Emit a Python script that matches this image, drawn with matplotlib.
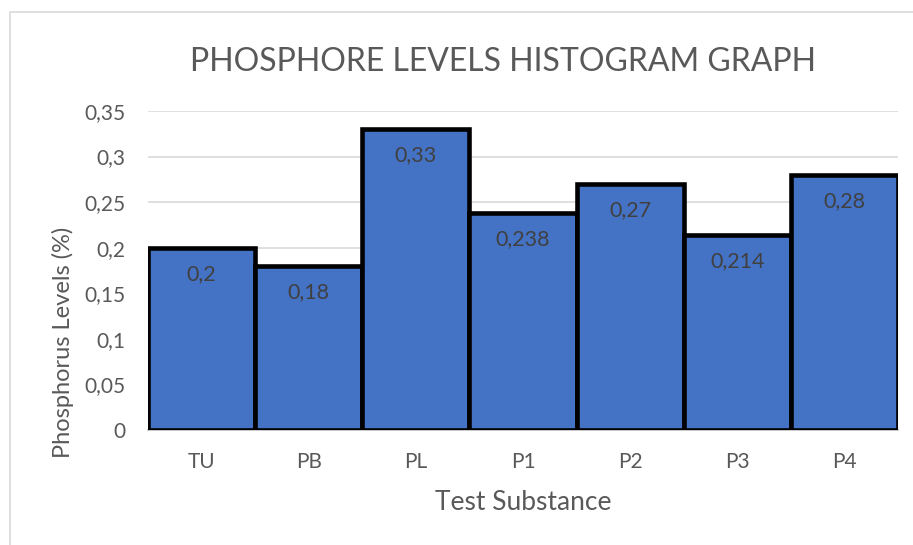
import matplotlib
matplotlib.use("Agg")
import matplotlib.pyplot as plt
from matplotlib.patches import Rectangle
from matplotlib.ticker import FixedLocator

categories = ["TU", "PB", "PL", "P1", "P2", "P3", "P4"]
values = [0.2, 0.18, 0.33, 0.238, 0.27, 0.214, 0.28]
yticks = [0, 0.05, 0.1, 0.15, 0.2, 0.25, 0.3, 0.35]
ytick_labels = ["0", "0,05", "0,1", "0,15", "0,2", "0,25", "0,3", "0,35"]

plt.rcParams['font.family'] = ['Lato', 'DejaVu Sans']
gray = "#595959"

W, H = 913, 545
fig = plt.figure(figsize=(W/100, H/100), dpi=100)

# chart border
fig.patches.append(Rectangle((10/W, -0.1), 1.2, 1 - 12/H + 0.1, transform=fig.transFigure,
                             fill=False, edgecolor="#d9d9d9", linewidth=1.2))

ax = fig.add_axes([148/W, 1 - 430/H, (898-148)/W, (430-111)/H])
x = list(range(len(categories)))
ax.bar(x, values, width=1.0, align='center', color="#4472C4", edgecolor="black",
       linewidth=3.3, zorder=3)
ax.set_xlim(-0.5, len(categories) - 0.5)
ax.set_ylim(0, 0.35)
ax.yaxis.set_major_locator(FixedLocator(yticks))
ax.set_yticklabels(ytick_labels)
ax.set_xticks(x)
ax.set_xticklabels(categories)
ax.tick_params(axis='both', length=0, labelsize=15, colors=gray)
ax.tick_params(axis='y', pad=16)
ax.tick_params(axis='x', pad=16)
ax.grid(axis='y', color="#d9d9d9", linewidth=1.2, zorder=0)
for s in ["top", "right", "left"]:
    ax.spines[s].set_visible(False)
ax.spines["bottom"].set_color("#bfbfbf")
ax.spines["bottom"].set_linewidth(1.2)
ax.spines["bottom"].set_zorder(2)

for xi, v in zip(x, values):
    lab = ("%g" % v).replace(".", ",")
    ax.annotate(lab, (xi, v), xytext=(0, -16), textcoords="offset pixels",
                ha="center", va="top", fontsize=15.5, color="#404040", zorder=4)

ax.set_xlabel("Test Substance", fontsize=19, color=gray)
ax.set_ylabel("Phosphorus Levels (%)", fontsize=17, color=gray)
ax.xaxis.set_label_coords(0.5, (430-490)/319)
ax.yaxis.set_label_coords((74-148)/750, (430-342)/319)

fig.text(503/W, 1 - 62/H, "PHOSPHORE LEVELS HISTOGRAM GRAPH", ha="center", va="center",
         fontsize=23, color=gray)

fig.savefig("out.png", dpi=100, facecolor="white")
